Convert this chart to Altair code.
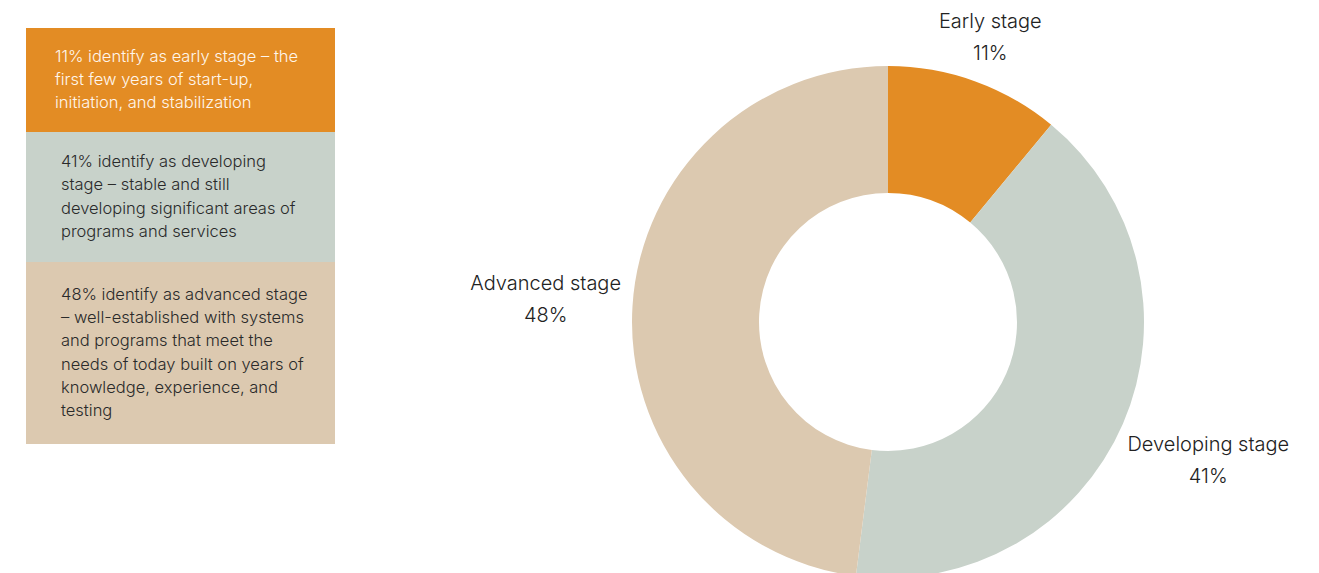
import altair as alt
import pandas as pd

# ---- data ----
stages = ["Early stage", "Developing stage", "Advanced stage"]
shares = [11, 41, 48]
colors = ["#E38C24", "#C8D2CA", "#DCC9B0"]

box_lines = [
    ["11% identify as early stage – the", "first few years of start-up,", "initiation, and stabilization"],
    ["41% identify as developing", "stage – stable and still", "developing significant areas of", "programs and services"],
    ["48% identify as advanced stage", "– well-established with systems", "and programs that meet the",
     "needs of today built on years of", "knowledge, experience, and", "testing"],
]

FONT = "Inter"
BOX_LH = 23.3      # line height in the boxes (px)
UNIT_PX = 26.0     # px per box unit

# donut table
donut = pd.DataFrame({"stage": stages, "share": shares, "order": list(range(len(stages)))})
donut["label"] = [[s, f"{v}%"] for s, v in zip(stages, shares)]

# side boxes table: box height in units of (lines + 1)
units = [len(l) + 1 for l in box_lines]
tops, acc = [], 0
for u in units:
    tops.append(acc)
    acc += u
boxes = pd.DataFrame({
    "stage": stages,
    "top": tops,
    "bot": [t + u for t, u in zip(tops, units)],
    "text": box_lines,
    "nlines": [len(l) for l in box_lines],
})

color_scale = alt.Scale(domain=stages, range=colors)
yscale = alt.Scale(domain=[0, acc], range=[20, 20 + acc * UNIT_PX])

CX, CY = 880, 314  # donut centre in plot coords

rects = alt.Chart(boxes).mark_rect().encode(
    x=alt.value(18), x2=alt.value(327),
    y=alt.Y("top:Q", scale=yscale, axis=None), y2="bot:Q",
    color=alt.Color("stage:N", scale=color_scale, legend=None),
)

box_text = alt.Chart(boxes).transform_calculate(
    tx="datum.stage === 'Early stage' ? 47 : 53",
    ty=f"(datum.top + datum.bot) / 2 - (datum.nlines - 1) / 2 * {BOX_LH / UNIT_PX}",
).mark_text(
    align="left", baseline="middle", font=FONT, fontSize=16.5, fontWeight=300, lineHeight=BOX_LH
).encode(
    x=alt.X("tx:Q", scale=None, axis=None),
    y=alt.Y("ty:Q", scale=yscale, axis=None),
    text="text",
    color=alt.condition("datum.stage === 'Early stage'", alt.value("#FFF6EC"), alt.value("#2a2a2a")),
)

arcs = alt.Chart(donut).mark_arc(outerRadius=256, innerRadius=129).encode(
    theta=alt.Theta("share:Q", stack=True),
    order=alt.Order("order:Q"),
    color=alt.Color("stage:N", scale=color_scale, legend=None),
    x=alt.value(CX), y=alt.value(CY),
)

labels = alt.Chart(donut).transform_window(
    cum="sum(share)", sort=[alt.SortField("order")]
).transform_calculate(
    mid="datum.cum - datum.share / 2",
    lr="datum.stage === 'Early stage' ? 302 : (datum.stage === 'Developing stage' ? 349 : 343)",
).mark_text(
    align="center", baseline="middle", font=FONT, fontSize=20, fontWeight=300, lineHeight=32,
    color="#222222", dy=-16,
).encode(
    theta=alt.Theta("mid:Q", stack=None, scale=alt.Scale(domain=[0, 100])),
    radius=alt.Radius("lr:Q", scale=None),
    text="label",
    x=alt.value(CX), y=alt.value(CY),
)

chart = alt.layer(rects, box_text, arcs, labels).properties(
    width=1303, height=565, padding=0, autosize="none"
).configure_view(stroke=None)

chart.save("out.html", embed_options={"renderer": "svg", "actions": False})
